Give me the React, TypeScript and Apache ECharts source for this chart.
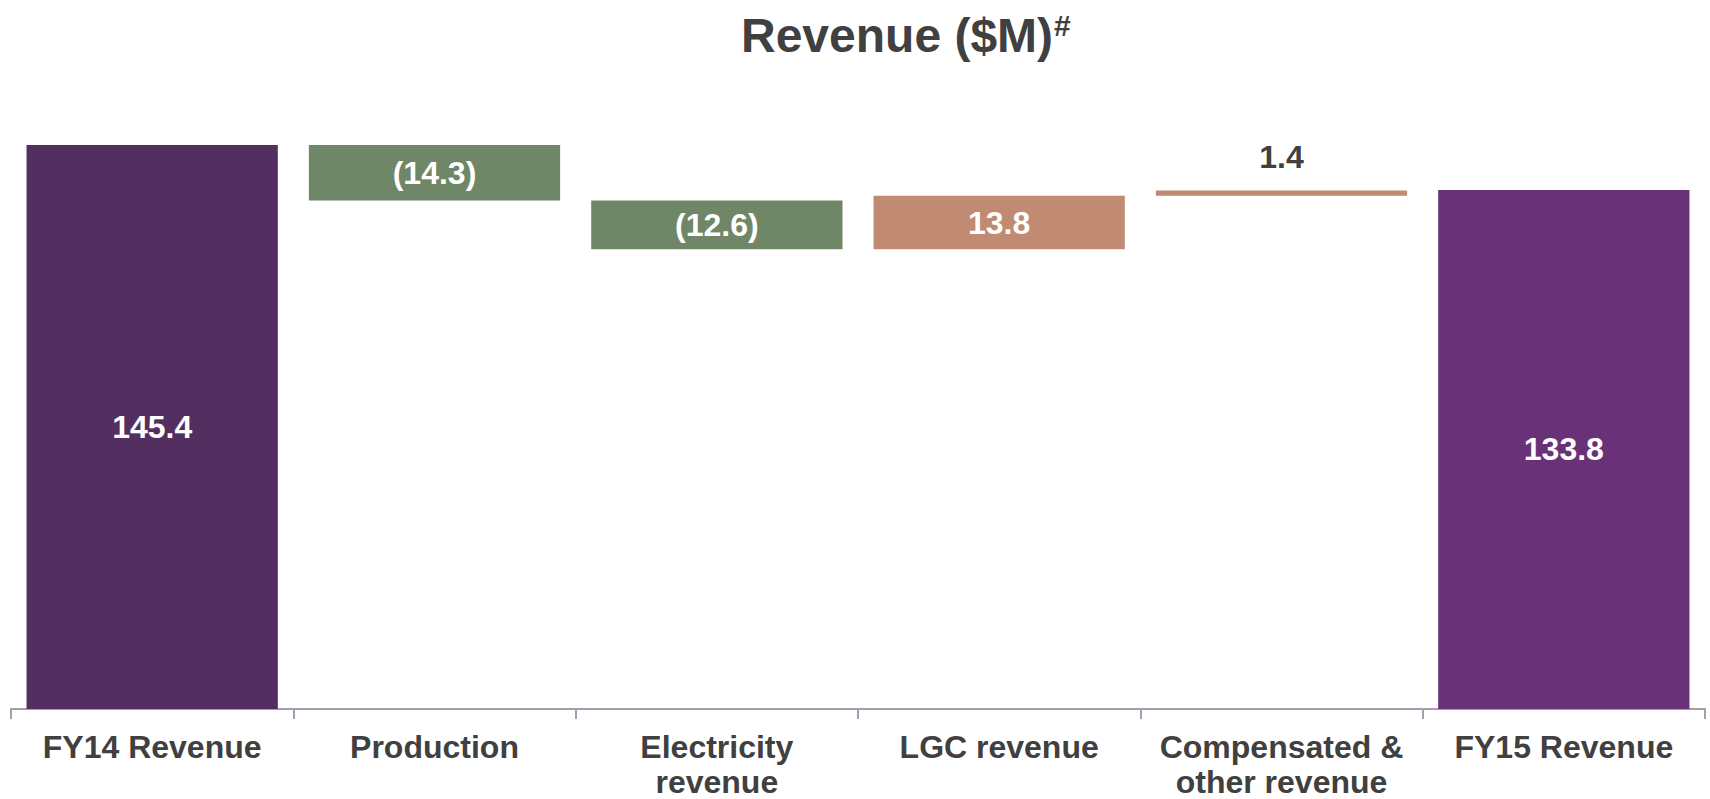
import React, { useEffect, useRef } from "react";
import * as echarts from "echarts";

const categories = [
  "FY14 Revenue",
  "Production",
  "Electricity\nrevenue",
  "LGC revenue",
  "Compensated &\nother revenue",
  "FY15 Revenue",
];
// signed changes; first and last are totals
const changes = [145.4, -14.3, -12.6, 13.8, 1.4, 133.8];
const isTotal = [true, false, false, false, false, true];
const valueLabels = ["145.4", "(14.3)", "(12.6)", "13.8", "1.4", "133.8"];
const barColors = ["#532e60", "#6f8766", "#6f8766", "#c08a73", "#c08a73", "#693177"];
const labelInside = [true, true, true, true, false, true];

const FONT = "'Liberation Sans', Arial, Helvetica, sans-serif";

export default function App() {
  const ref = useRef<HTMLDivElement>(null);
  useEffect(() => {
    if (!ref.current) return;
    const chart = echarts.init(ref.current, undefined, { renderer: "svg" });

    const bases: number[] = [];
    const heights: number[] = [];
    let running = 0;
    changes.forEach((v, i) => {
      if (isTotal[i]) {
        bases.push(0);
        heights.push(v);
        running = v;
      } else if (v < 0) {
        running = running + v;
        bases.push(Math.round(running * 10) / 10);
        heights.push(-v);
      } else {
        bases.push(Math.round(running * 10) / 10);
        heights.push(v);
        running = running + v;
      }
    });

    chart.setOption({
      animation: false,
      title: {
        text: "{a|Revenue ($M)}{b|#}",
        left: 736,
        top: 5,
        textStyle: {
          rich: {
            a: { fontFamily: FONT, fontSize: 48, fontWeight: "bold", color: "#404040" },
            b: {
              fontFamily: FONT,
              fontSize: 30,
              fontWeight: "bold",
              color: "#404040",
              padding: [0, 0, 20, 1],
            },
          },
        },
      },
      grid: { left: 11, right: 5, top: 145, bottom: 89, containLabel: false },
      xAxis: {
        type: "category",
        data: categories,
        axisLine: { lineStyle: { color: "#a69caa", width: 2 } },
        axisTick: { show: true, length: 10, lineStyle: { color: "#a69caa", width: 2 } },
        axisLabel: {
          interval: 0,
          margin: 20,
          fontFamily: FONT,
          fontSize: 32,
          fontWeight: "bold",
          color: "#404040",
          lineHeight: 35,
        },
      },
      yAxis: {
        type: "value",
        min: 0,
        max: 145.4,
        show: false,
        splitLine: { show: false },
      },
      series: [
        {
          type: "bar",
          stack: "w",
          data: bases,
          itemStyle: { color: "transparent" },
          silent: true,
          barCategoryGap: "11%",
        },
        {
          type: "bar",
          stack: "w",
          barCategoryGap: "11%",
          data: heights.map((h, i) => ({
            value: h,
            itemStyle: { color: barColors[i] },
            label: {
              show: true,
              position: labelInside[i] ? "inside" : "top",
              distance: 17,
              formatter: valueLabels[i],
              fontFamily: FONT,
              fontSize: 32,
              fontWeight: "bold",
              color: labelInside[i] ? "#ffffff" : "#404040",
            },
          })),
        },
      ],
    });
    return () => chart.dispose();
  }, []);
  return (
    <div
      ref={ref}
      style={{ position: "absolute", left: 0, top: 0, width: 1710, height: 799 }}
    />
  );
}
